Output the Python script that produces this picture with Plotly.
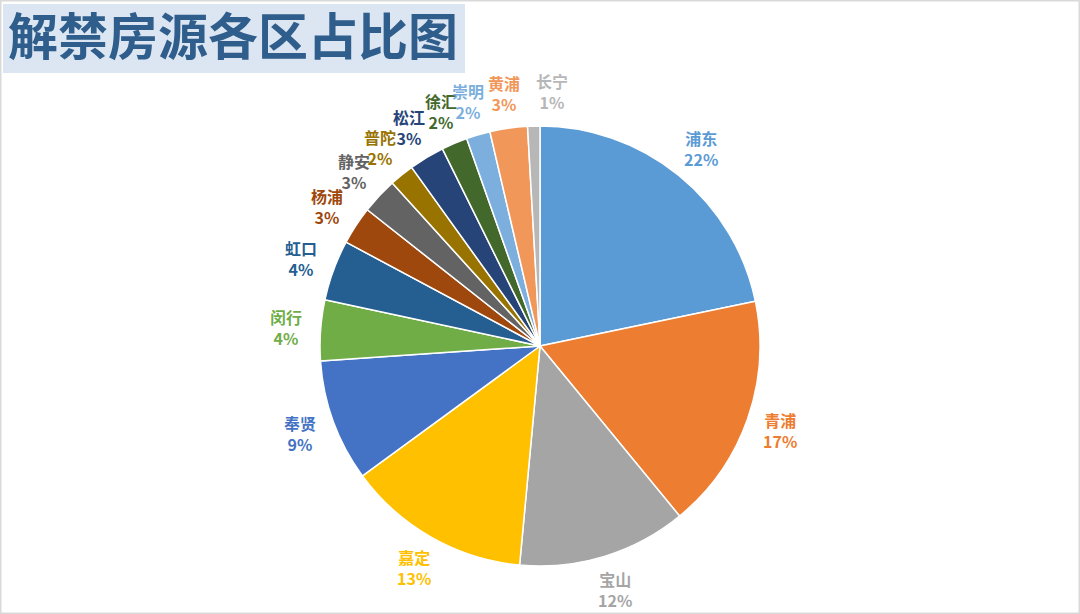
import math
import plotly.graph_objects as go

# 各区解禁房源占比（%），按顺时针从12点方向开始
districts = ["浦东", "青浦", "宝山", "嘉定", "奉贤", "闵行", "虹口", "杨浦",
             "静安", "普陀", "松江", "徐汇", "崇明", "黄浦", "长宁"]
shares = [21.7, 17.3, 12.4, 13.45, 8.95, 4.45, 4.45, 2.8,
          2.65, 1.8, 2.6, 1.9, 1.75, 2.75, 0.9]
colors = ["#5B9BD5", "#ED7D31", "#A5A5A5", "#FFC000", "#4472C4", "#70AD47",
          "#255E91", "#9E480E", "#636363", "#997300", "#264478", "#43682B",
          "#7CAFDD", "#F1975A", "#B7B7B7"]

title_text = "解禁房源各区占比图"

W, H = 1080, 614
cx, cy, r = 540, 346, 220      # 饼图圆心与半径（像素）
label_r = 255                  # 标签中心到圆心的距离
min_gap = 48                   # 同一行标签太挤时往右推开的间距

fig = go.Figure()

fig.add_trace(go.Pie(
    labels=districts,
    values=shares,
    sort=False,
    direction="clockwise",
    rotation=0,
    textinfo="none",
    textposition="none",
    marker=dict(colors=colors, line=dict(color="white", width=1.5)),
    showlegend=False,
    hoverinfo="label+percent",
    domain=dict(x=[(cx - r) / W, (cx + r) / W],
                y=[1 - (cy + r) / H, 1 - (cy - r) / H]),
))

# 数据标签：放在每块扇形的中线方向上，和前一个标签挤在同一行时往右推
total = sum(shares)
cum = 0
prev = None
for d, v, c in zip(districts, shares, colors):
    mid = (cum + v / 2) / total * 2 * math.pi
    cum += v
    px = cx + label_r * math.sin(mid)
    py = cy - label_r * math.cos(mid)
    if prev is not None and abs(px - prev[0]) < 32 and abs(py - prev[1]) < 5:
        px = prev[0] + min_gap
    prev = (px, py)
    fig.add_annotation(
        text=f"<b>{d}<br>{round(v / total * 100):.0f}%</b>",
        xref="paper", yref="paper", x=px / W, y=1 - py / H,
        xanchor="center", yanchor="middle", showarrow=False,
        font=dict(family="Noto Sans CJK SC", size=16, color=c),
    )

# 标题底色框
fig.add_shape(type="rect", xref="paper", yref="paper",
              x0=3 / W, x1=465 / W, y0=1 - 73 / H, y1=1 - 4 / H,
              fillcolor="#DCE6F2", line=dict(width=0), layer="below")
# 外框
fig.add_shape(type="rect", xref="paper", yref="paper",
              x0=0, x1=1, y0=0, y1=1,
              line=dict(color="#D9D9D9", width=3))

fig.add_annotation(text=f"<b>{title_text}</b>", xref="paper", yref="paper",
                   x=6 / W, y=1 - 33 / H, xanchor="left", yanchor="middle",
                   showarrow=False,
                   font=dict(family="Noto Sans CJK SC", size=50, color="#2F5E8C"))

fig.update_layout(
    width=W, height=H,
    margin=dict(l=0, r=0, t=0, b=0),
    paper_bgcolor="white",
    plot_bgcolor="white",
)

# 去掉页面默认的 8px 边距，让图正好铺满窗口；隐藏工具栏
fig.write_html("out.html", config={"displayModeBar": False},
               post_script="document.body.style.margin='0';")
